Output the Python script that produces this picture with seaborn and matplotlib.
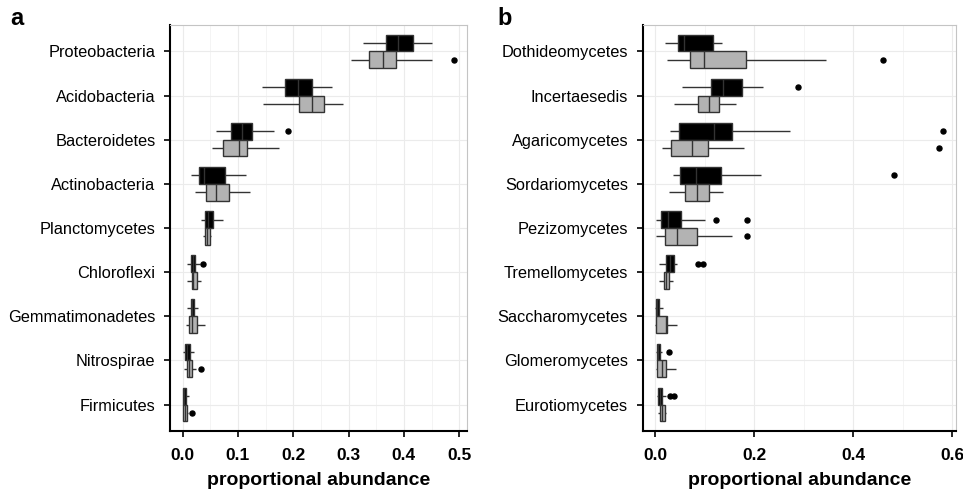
import numpy as np
import pandas as pd
import seaborn as sns
import matplotlib.pyplot as plt
from matplotlib.ticker import MultipleLocator

sns.set_theme(style='white')
plt.rcParams['font.family'] = ['Liberation Sans', 'DejaVu Sans']
plt.rcParams['text.color'] = 'black'

GROUPS = ['dark', 'light']
PALETTE = {'dark': 'black', 'light': '#b3b3b3'}

# box summaries: (whisker low, q1, median, q3, whisker high)
phyla = ['Proteobacteria', 'Acidobacteria', 'Bacteroidetes', 'Actinobacteria',
         'Planctomycetes', 'Chloroflexi', 'Gemmatimonadetes', 'Nitrospirae',
         'Firmicutes']
phyla_dark = [(0.326, 0.368, 0.389, 0.417, 0.450),
              (0.144, 0.185, 0.209, 0.233, 0.270),
              (0.060, 0.087, 0.108, 0.126, 0.165),
              (0.015, 0.030, 0.039, 0.076, 0.114),
              (0.034, 0.040, 0.045, 0.055, 0.072),
              (0.008, 0.015, 0.018, 0.022, 0.031),
              (0.0075, 0.0145, 0.016, 0.021, 0.028),
              (0.000, 0.005, 0.007, 0.013, 0.020),
              (0.000, 0.001, 0.003, 0.006, 0.012)]
phyla_dark_out = [[], [], [0.190], [], [], [0.037], [], [], []]
phyla_light = [(0.304, 0.337, 0.363, 0.386, 0.450),
               (0.145, 0.210, 0.233, 0.256, 0.289),
               (0.053, 0.072, 0.101, 0.116, 0.174),
               (0.022, 0.042, 0.061, 0.084, 0.122),
               (0.036, 0.041, 0.044, 0.049, 0.052),
               (0.008, 0.016, 0.019, 0.025, 0.033),
               (0.006, 0.011, 0.016, 0.026, 0.041),
               (0.002, 0.008, 0.011, 0.017, 0.024),
               (0.000, 0.001, 0.004, 0.007, 0.010)]
phyla_light_out = [[0.490], [], [], [], [], [], [], [0.033], [0.0175]]

classes = ['Dothideomycetes', 'Incertaesedis', 'Agaricomycetes', 'Sordariomycetes',
           'Pezizomycetes', 'Tremellomycetes', 'Saccharomycetes', 'Glomeromycetes',
           'Eurotiomycetes']
classes_dark = [(0.021, 0.047, 0.059, 0.118, 0.135),
                (0.054, 0.113, 0.137, 0.175, 0.218),
                (0.031, 0.049, 0.119, 0.156, 0.273),
                (0.037, 0.051, 0.082, 0.133, 0.215),
                (0.002, 0.012, 0.027, 0.052, 0.100),
                (0.007, 0.022, 0.030, 0.039, 0.044),
                (0.000, 0.002, 0.004, 0.008, 0.0155),
                (0.002, 0.004, 0.006, 0.010, 0.014),
                (0.003, 0.006, 0.010, 0.014, 0.022)]
classes_dark_out = [[], [0.288], [0.581], [0.483], [0.124, 0.185],
                    [0.086, 0.096], [], [0.028], [0.031, 0.039]]
classes_light = [(0.024, 0.070, 0.099, 0.184, 0.345),
                 (0.039, 0.086, 0.108, 0.130, 0.164),
                 (0.014, 0.033, 0.075, 0.106, 0.180),
                 (0.028, 0.061, 0.085, 0.109, 0.137),
                 (0.002, 0.0195, 0.044, 0.084, 0.156),
                 (0.007, 0.018, 0.022, 0.029, 0.036),
                 (0.000, 0.001, 0.0215, 0.025, 0.045),
                 (0.002, 0.004, 0.013, 0.023, 0.042),
                 (0.005, 0.009, 0.014, 0.021, 0.023)]
classes_light_out = [[0.461], [], [0.573], [], [0.186], [], [], [], []]

a_ticks = [0.0, 0.1, 0.2, 0.3, 0.4, 0.5]
b_ticks = [0.0, 0.2, 0.4, 0.6]


def expand(stats, outliers):
    '''
    Turn a box summary into 13 observations whose linear percentiles
    and 1.5*IQR whiskers give back the same box
    '''
    lo, q1, med, q3, hi = stats
    top = [hi] * (3 - len(outliers)) + sorted(outliers)
    return [lo] + [q1] * 3 + [med] * 3 + [q3] * 3 + top


def build_frame(taxa, dark, dark_out, light, light_out):
    rows = []
    for i, taxon in enumerate(taxa):
        for group, stats, outs in (('dark', dark[i], dark_out[i]),
                                   ('light', light[i], light_out[i])):
            for v in expand(stats, outs):
                rows.append((taxon, group, v))
    return pd.DataFrame(rows, columns=['taxon', 'group', 'abundance'])


def plot_panel(ax, df, taxa, ticks, minor, xlim):
    sns.boxplot(data=df, x='abundance', y='taxon', hue='group', order=taxa,
                hue_order=GROUPS, palette=PALETTE, width=0.76, gap=0,
                saturation=1, linecolor='#333333', linewidth=1.0,
                showcaps=False, fliersize=3.6,
                flierprops=dict(marker='o', markerfacecolor='black',
                                markeredgecolor='black'),
                legend=False, ax=ax)
    ax.set_ylim(len(taxa) - 0.4, -0.6)
    ax.set_xlim(*xlim)
    ax.set_xticks(ticks)
    ax.set_xticklabels(['%.1f' % t for t in ticks], fontweight='bold')
    ax.xaxis.set_minor_locator(MultipleLocator(minor))
    ax.set_axisbelow(True)
    ax.grid(which='major', axis='both', color='#ebebeb', lw=0.8)
    ax.grid(which='minor', axis='x', color='#f3f3f3', lw=0.6)
    for side in ['top', 'right']:
        ax.spines[side].set_color('#c4c4c4')
        ax.spines[side].set_linewidth(0.8)
    for side in ['left', 'bottom']:
        ax.spines[side].set_color('black')
        ax.spines[side].set_linewidth(1.5)
    ax.tick_params(which='major', direction='out', length=4, width=1.2,
                   color='black', left=True, bottom=True)
    ax.tick_params(which='minor', length=0)
    ax.tick_params(axis='x', labelsize=12.5, pad=8, labelcolor='black')
    ax.tick_params(axis='y', labelsize=11.8, pad=6.5, labelcolor='black')
    ax.set_ylabel('')
    ax.set_xlabel('proportional abundance', fontsize=14, fontweight='bold',
                  labelpad=7, color='black')


fig = plt.figure(figsize=(9.63, 4.94), dpi=100)
ax_a = fig.add_axes([0.1765, 0.1275, 0.3084, 0.822])
ax_b = fig.add_axes([0.6674, 0.1275, 0.3253, 0.822])

df_a = build_frame(phyla, phyla_dark, phyla_dark_out, phyla_light, phyla_light_out)
df_b = build_frame(classes, classes_dark, classes_dark_out, classes_light,
                   classes_light_out)

plot_panel(ax_a, df_a, phyla, a_ticks, 0.05, (-0.023, 0.514))
plot_panel(ax_b, df_b, classes, b_ticks, 0.1, (-0.025, 0.608))

fig.text(0.0104, 0.9494, 'a', fontsize=17, fontweight='bold', va='baseline')
fig.text(0.517, 0.9494, 'b', fontsize=17, fontweight='bold', va='baseline')

fig.savefig('out.png', dpi=100)
